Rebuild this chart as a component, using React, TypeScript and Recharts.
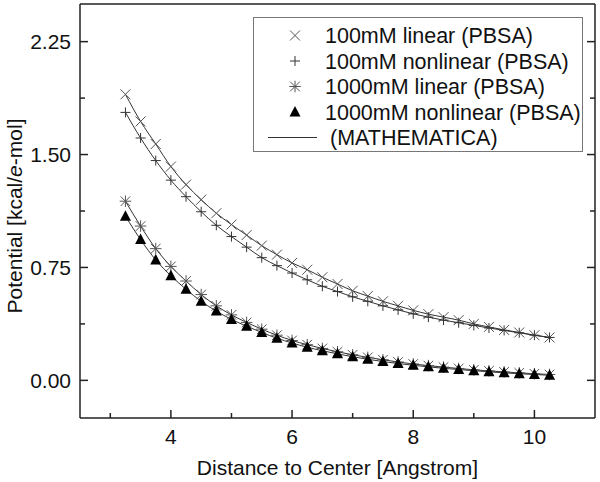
import React from 'react';
import { ComposedChart, Line, Scatter, XAxis, YAxis, Legend } from 'recharts';

const distances = [
  3.25, 3.5, 3.75, 4.0, 4.25, 4.5, 4.75, 5.0, 5.25, 5.5, 5.75, 6.0, 6.25, 6.5, 6.75,
  7.0, 7.25, 7.5, 7.75, 8.0, 8.25, 8.5, 8.75, 9.0, 9.25, 9.5, 9.75, 10.0, 10.25,
];

const linear100 = [
  1.9, 1.72, 1.57, 1.42, 1.3, 1.2, 1.11, 1.035, 0.965, 0.895, 0.835, 0.78, 0.735, 0.685, 0.64,
  0.595, 0.56, 0.525, 0.495, 0.465, 0.44, 0.42, 0.4, 0.375, 0.355, 0.335, 0.318, 0.3, 0.285,
];
const nonlinear100 = [
  1.78, 1.61, 1.46, 1.33, 1.22, 1.12, 1.03, 0.955, 0.885, 0.815, 0.762, 0.713, 0.668, 0.625, 0.59,
  0.555, 0.525, 0.495, 0.468, 0.442, 0.42, 0.4, 0.383, 0.365, 0.348, 0.332, 0.316, 0.3, 0.285,
];
const linear1000 = [
  1.19, 1.025, 0.875, 0.757, 0.66, 0.57, 0.495, 0.435, 0.385, 0.34, 0.3, 0.265, 0.237, 0.212, 0.19,
  0.17, 0.153, 0.137, 0.122, 0.109, 0.098, 0.088, 0.079, 0.07, 0.063, 0.056, 0.05, 0.044, 0.039,
];
const nonlinear1000 = [
  1.09, 0.935, 0.8, 0.695, 0.605, 0.525, 0.46, 0.405, 0.36, 0.318, 0.28, 0.248, 0.22, 0.197, 0.176,
  0.157, 0.14, 0.125, 0.112, 0.1, 0.09, 0.08, 0.072, 0.064, 0.057, 0.05, 0.044, 0.039, 0.034,
];

const xTicks = [3, 4, 5, 6, 7, 8, 9, 10];
const yTicks = [0, 0.375, 0.75, 1.125, 1.5, 1.875, 2.25];
const legendLabels = [
  '100mM linear (PBSA)',
  '100mM nonlinear (PBSA)',
  '1000mM linear (PBSA)',
  '1000mM nonlinear (PBSA)',
  '(MATHEMATICA)',
];

const font = '"Liberation Sans", Arial, sans-serif';
const frame = '#222';

const toPoints = (values: number[]) => distances.map((x, i) => ({ x, y: values[i] }));

// marker half-widths in px
const CROSS = 5;
const PLUS = 5;
const STAR = 4.8;

const CrossMark = ({ cx, cy }: any) => (
  <path
    d={`M${cx - CROSS},${cy - CROSS}L${cx + CROSS},${cy + CROSS}M${cx - CROSS},${cy + CROSS}L${cx + CROSS},${cy - CROSS}`}
    stroke="#555"
    strokeWidth={1}
    fill="none"
  />
);

const PlusMark = ({ cx, cy }: any) => (
  <path
    d={`M${cx - PLUS},${cy}L${cx + PLUS},${cy}M${cx},${cy - PLUS}L${cx},${cy + PLUS}`}
    stroke="#333"
    strokeWidth={1}
    fill="none"
  />
);

const StarMark = ({ cx, cy }: any) => (
  <path
    d={`M${cx - STAR},${cy - STAR}L${cx + STAR},${cy + STAR}M${cx - STAR},${cy + STAR}L${cx + STAR},${cy - STAR}M${cx - STAR * 1.2},${cy}L${cx + STAR * 1.2},${cy}M${cx},${cy - STAR * 1.2}L${cx},${cy + STAR * 1.2}`}
    stroke="#555"
    strokeWidth={1}
    fill="none"
  />
);

const TriangleMark = ({ cx, cy }: any) => (
  <path d={`M${cx},${cy - 6}L${cx + 5.5},${cy + 4.5}L${cx - 5.5},${cy + 4.5}Z`} fill="#000" />
);

const isMajor = (v: number, step: number) => Math.abs(v / step - Math.round(v / step)) < 1e-6;

const AxisTick = ({ x, y, payload, side }: any) => {
  const v = payload.value;
  const horizontal = side === 'bottom' || side === 'top';
  const major = horizontal ? isMajor(v, 2) : isMajor(v, 0.75);
  const len = major ? 8 : 5;
  let line;
  if (side === 'bottom') line = <line x1={x} y1={y} x2={x} y2={y - len} stroke={frame} strokeWidth={1.5} />;
  else if (side === 'top') line = <line x1={x} y1={y} x2={x} y2={y + len} stroke={frame} strokeWidth={1.5} />;
  else if (side === 'left') line = <line x1={x} y1={y} x2={x + len} y2={y} stroke={frame} strokeWidth={1.5} />;
  else line = <line x1={x} y1={y} x2={x - len} y2={y} stroke={frame} strokeWidth={1.5} />;
  return (
    <g>
      {line}
      {major && side === 'bottom' && (
        <text x={x} y={y + 26} textAnchor="middle" fontSize={21} fontFamily={font} fill="#111">
          {v}
        </text>
      )}
      {major && side === 'left' && (
        <text x={x - 9} y={y + 7.5} textAnchor="end" fontSize={21} fontFamily={font} fill="#111">
          {v.toFixed(2)}
        </text>
      )}
    </g>
  );
};

const YTitle = (props: any) => {
  const vb = props.viewBox || { x: 0, y: 4, width: 80, height: 414 };
  const x = vb.x + 22;
  const y = vb.y + vb.height / 2 + 5;
  return (
    <text
      x={x}
      y={y}
      transform={`rotate(-90, ${x}, ${y})`}
      textAnchor="middle"
      fontSize={21}
      fontFamily={font}
      fill="#111"
    >
      Potential [kcal/<tspan fontStyle="italic">e</tspan>-mol]
    </text>
  );
};

const LegendBox = () => {
  const symbols = [CrossMark, PlusMark, StarMark, TriangleMark];
  return (
    <svg width={331} height={136} style={{ display: 'block' }}>
      <rect x={0.5} y={0.5} width={329} height={134} fill="#fff" stroke="#777" strokeWidth={1} />
      {legendLabels.map((label, i) => {
        const cy = 18.5 + i * 25.5;
        const Sym = symbols[i];
        return (
          <g key={label}>
            {Sym ? (
              <Sym cx={42} cy={cy} />
            ) : (
              <line x1={15} y1={cy} x2={64} y2={cy} stroke="#333" strokeWidth={1} />
            )}
            <text x={Sym ? 72 : 77} y={cy + 7.5} fontSize={21.5} fontFamily={font} fill="#111">
              {label}
            </text>
          </g>
        );
      })}
    </svg>
  );
};

export default function App() {
  const series = [linear100, nonlinear100, linear1000, nonlinear1000].map(toPoints);
  return (
    <div style={{ position: 'absolute', left: 0, top: 0, width: 600, height: 482, background: '#fff' }}>
      <ComposedChart width={600} height={482} margin={{ top: 0, right: 0, left: 0, bottom: 0 }}>
        <XAxis
          xAxisId={0}
          dataKey="x"
          type="number"
          domain={[2.5, 11]}
          ticks={xTicks}
          interval={0}
          height={64}
          tickSize={0}
          tickMargin={0}
          tickLine={false}
          axisLine={{ stroke: frame, strokeWidth: 1.5 }}
          tick={<AxisTick side="bottom" />}
          allowDataOverflow
          label={{ value: 'Distance to Center [Angstrom]', position: 'insideBottom', offset: 7, fill: '#111', fontSize: 21, fontFamily: font }}
        />
        <XAxis
          xAxisId="top"
          orientation="top"
          type="number"
          domain={[2.5, 11]}
          ticks={xTicks}
          interval={0}
          height={4}
          tickSize={0}
          tickMargin={0}
          tickLine={false}
          axisLine={{ stroke: frame, strokeWidth: 1.5 }}
          tick={<AxisTick side="top" />}
          allowDataOverflow
        />
        <YAxis
          yAxisId={0}
          dataKey="y"
          type="number"
          domain={[-0.25, 2.5]}
          ticks={yTicks}
          interval={0}
          width={80}
          tickSize={0}
          tickMargin={0}
          tickLine={false}
          axisLine={{ stroke: frame, strokeWidth: 1.5 }}
          tick={<AxisTick side="left" />}
          allowDataOverflow
          label={YTitle}
        />
        <YAxis
          yAxisId="right"
          orientation="right"
          type="number"
          domain={[-0.25, 2.5]}
          ticks={yTicks}
          interval={0}
          width={5}
          tickSize={0}
          tickMargin={0}
          tickLine={false}
          axisLine={{ stroke: frame, strokeWidth: 1.5 }}
          tick={<AxisTick side="right" />}
          allowDataOverflow
        />
        {series.map((pts, i) => (
          <Line
            key={`line-${i}`}
            data={pts}
            dataKey="y"
            type="monotone"
            stroke="#333"
            strokeWidth={1}
            dot={false}
            activeDot={false}
            isAnimationActive={false}
            legendType="none"
          />
        ))}
        <Scatter data={series[0]} dataKey="y" shape={<CrossMark />} isAnimationActive={false} />
        <Scatter data={series[1]} dataKey="y" shape={<PlusMark />} isAnimationActive={false} />
        <Scatter data={series[2]} dataKey="y" shape={<StarMark />} isAnimationActive={false} />
        <Scatter data={series[3]} dataKey="y" shape={<TriangleMark />} isAnimationActive={false} />
        <Legend
          layout="vertical"
          align="center"
          verticalAlign="middle"
          content={<LegendBox />}
          wrapperStyle={{ top: 17, left: 253, width: 331, height: 136 }}
        />
      </ComposedChart>
    </div>
  );
}
